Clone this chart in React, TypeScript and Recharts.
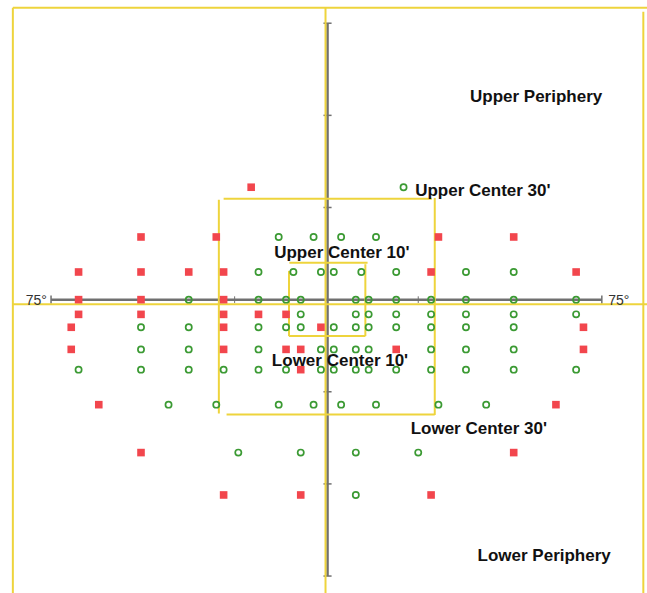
import React from "react";
import {
  ScatterChart,
  Scatter,
  XAxis,
  YAxis,
  ReferenceLine,
  ReferenceDot,
} from "recharts";

// visual field test locations, degrees from fixation (x: horizontal, y: vertical)
const seenPoints = [
  { x: 21, y: 30.5 },
  { x: -13, y: 17 }, { x: -3.5, y: 17 }, { x: 4, y: 17 }, { x: 13.5, y: 17 },
  { x: -18.5, y: 7.5 }, { x: -9, y: 7.5 }, { x: -1.5, y: 7.5 }, { x: 2, y: 7.5 },
  { x: 9.5, y: 7.5 }, { x: 19, y: 7.5 }, { x: 38, y: 7.5 }, { x: 51, y: 7.5 },
  { x: -37.5, y: 0 }, { x: -18.5, y: 0 }, { x: -11, y: 0 }, { x: -7, y: 0 },
  { x: 8, y: 0 }, { x: 11.5, y: 0 }, { x: 19, y: 0 }, { x: 28.5, y: 0 },
  { x: 38, y: 0 }, { x: 51, y: 0 }, { x: 68, y: 0 },
  { x: -7, y: -4 }, { x: 8, y: -4 }, { x: 11.5, y: -4 }, { x: 19, y: -4 },
  { x: 28.5, y: -4 }, { x: 38, y: -4 }, { x: 51, y: -4 }, { x: 68, y: -4 },
  { x: -50.5, y: -7.5 }, { x: -37.5, y: -7.5 }, { x: -18.5, y: -7.5 }, { x: -11, y: -7.5 },
  { x: -7, y: -7.5 }, { x: 2, y: -7.5 }, { x: 8, y: -7.5 }, { x: 11.5, y: -7.5 },
  { x: 19, y: -7.5 }, { x: 28.5, y: -7.5 }, { x: 38, y: -7.5 }, { x: 51, y: -7.5 },
  { x: -50.5, y: -13.5 }, { x: -37.5, y: -13.5 }, { x: -18.5, y: -13.5 }, { x: -1.5, y: -13.5 },
  { x: 2, y: -13.5 }, { x: 8, y: -13.5 }, { x: 11.5, y: -13.5 }, { x: 28.5, y: -13.5 },
  { x: 38, y: -13.5 }, { x: 51, y: -13.5 },
  { x: -67.5, y: -19 }, { x: -50.5, y: -19 }, { x: -37.5, y: -19 }, { x: -28, y: -19 },
  { x: -18.5, y: -19 }, { x: -11, y: -19 }, { x: -1.5, y: -19 }, { x: 2, y: -19 },
  { x: 8, y: -19 }, { x: 11.5, y: -19 }, { x: 19, y: -19 }, { x: 28.5, y: -19 },
  { x: 38, y: -19 }, { x: 51, y: -19 }, { x: 68, y: -19 },
  { x: -43, y: -28.5 }, { x: -30, y: -28.5 }, { x: -13, y: -28.5 }, { x: -3.5, y: -28.5 },
  { x: 4, y: -28.5 }, { x: 13.5, y: -28.5 }, { x: 30.5, y: -28.5 }, { x: 43.5, y: -28.5 },
  { x: -24, y: -41.5 }, { x: -7, y: -41.5 }, { x: 8, y: -41.5 }, { x: 25, y: -41.5 },
  { x: 8, y: -53 },
];

const missedPoints = [
  { x: -20.5, y: 30.5 },
  { x: -50.5, y: 17 }, { x: -30, y: 17 }, { x: 30.5, y: 17 }, { x: 51, y: 17 },
  { x: -67.5, y: 7.5 }, { x: -50.5, y: 7.5 }, { x: -37.5, y: 7.5 }, { x: -28, y: 7.5 },
  { x: 28.5, y: 7.5 }, { x: 68, y: 7.5 },
  { x: -67.5, y: 0 }, { x: -50.5, y: 0 }, { x: -28, y: 0 },
  { x: -67.5, y: -4 }, { x: -50.5, y: -4 }, { x: -28, y: -4 }, { x: -18.5, y: -4 }, { x: -11, y: -4 },
  { x: -69.5, y: -7.5 }, { x: -28, y: -7.5 }, { x: -1.5, y: -7.5 }, { x: 70, y: -7.5 },
  { x: -69.5, y: -13.5 }, { x: -28, y: -13.5 }, { x: -11, y: -13.5 }, { x: -7, y: -13.5 },
  { x: 19, y: -13.5 }, { x: 70, y: -13.5 },
  { x: -7, y: -19 },
  { x: -62, y: -28.5 }, { x: 62.5, y: -28.5 },
  { x: -50.5, y: -41.5 }, { x: 51, y: -41.5 },
  { x: -28, y: -53 }, { x: -7, y: -53 }, { x: 28.5, y: -53 },
];

// region boundaries, each edge as [x1, y1, x2, y2] in degrees
const regionEdges = [
  // outer frame and quadrant split
  [-85.4, 79.2, 87.3, 79.2],
  [-85.4, 79.2, -85.4, -79.6],
  [86.3, 78.1, 86.3, -79.6],
  [-85.6, -1.25, 87.3, -1.25],
  [-0.25, 79.2, -0.25, -79.6],
  // central 30
  [-28.0, 27.4, 28.7, 27.4],
  [-29.3, 27.1, -29.3, -30.9],
  [29.5, 27.6, 29.5, -31.3],
  [-27.2, -31.2, 29.5, -31.2],
  // central 10
  [-10.1, 10.0, 11.2, 10.0],
  [-10.2, 7.8, -10.2, -9.9],
  [10.6, 9.6, 10.6, -9.9],
  [-10.2, -9.9, 10.6, -9.9],
];

const regionLabels = [
  { x: 57.1, y: 55.3, text: "Upper Periphery" },
  { x: 42.6, y: 29.8, text: "Upper Center 30'" },
  { x: 4.2, y: 13.0, text: "Upper Center 10'" },
  { x: 3.7, y: -16.4, text: "Lower Center 10'" },
  { x: 41.5, y: -34.7, text: "Lower Center 30'" },
  { x: 59.3, y: -69.4, text: "Lower Periphery" },
];

const axisLimit = 75;
const axisTicks = [-75, -50, -25, 25, 50, 75];
const hTicks = [-25, 25];

const GREEN = "#3b9a33";
const RED = "#f2464d";
const YELLOW = "#eed43c";
const AXIS = "#707070";
const FONT = "'Liberation Sans', Arial, Helvetica, sans-serif";

const Ring = (p: any) => (
  <circle cx={p.cx} cy={p.cy} r={3.1} fill="none" stroke={GREEN} strokeWidth={1.7} />
);

const Block = (p: any) => (
  <rect x={p.cx - 3.8} y={p.cy - 3.8} width={7.6} height={7.6} fill={RED} />
);

export default function App() {
  return (
    <div
      style={{
        position: "absolute",
        left: 0,
        top: 0,
        width: 647,
        height: 593,
        background: "#fff",
        fontFamily: FONT,
      }}
    >
      <ScatterChart width={647} height={593} margin={{ top: 0, right: 0, bottom: 0, left: 0 }}>
        <XAxis type="number" dataKey="x" domain={[-88.9, 87.3]} allowDataOverflow hide />
        <YAxis type="number" dataKey="y" domain={[-79.6, 81.3]} allowDataOverflow hide />

        {/* gray degree axes */}
        <ReferenceLine
          segment={[{ x: -axisLimit, y: 0 }, { x: axisLimit, y: 0 }]}
          stroke={AXIS}
          strokeWidth={2.5}
        />
        <ReferenceLine
          segment={[{ x: 0.3, y: -axisLimit }, { x: 0.3, y: axisLimit }]}
          stroke={AXIS}
          strokeWidth={2.5}
        />
        {[-axisLimit, axisLimit].map((v) => (
          <ReferenceLine
            key={`he${v}`}
            segment={[{ x: v, y: -1.1 }, { x: v, y: 1.1 }]}
            stroke={AXIS}
            strokeWidth={1.5}
          />
        ))}
        {hTicks.map((v) => (
          <ReferenceLine
            key={`ht${v}`}
            segment={[{ x: v, y: -0.9 }, { x: v, y: 0.9 }]}
            stroke={AXIS}
            strokeWidth={1}
          />
        ))}
        {axisTicks.map((v) => (
          <ReferenceLine
            key={`vt${v}`}
            segment={[{ x: -0.8, y: v }, { x: 1.4, y: v }]}
            stroke={AXIS}
            strokeWidth={1.5}
          />
        ))}

        <Scatter data={seenPoints} shape={Ring} isAnimationActive={false} />
        <Scatter data={missedPoints} shape={Block} isAnimationActive={false} />

        {/* region boundaries */}
        {regionEdges.map(([x1, y1, x2, y2], i) => (
          <ReferenceLine
            key={`edge${i}`}
            segment={[{ x: x1, y: y1 }, { x: x2, y: y2 }]}
            stroke={YELLOW}
            strokeWidth={2}
          />
        ))}

        <ReferenceDot
          x={-79}
          y={0}
          r={0}
          label={{ value: "75°", position: "center", fontSize: 14, fill: "#333", fontFamily: FONT }}
        />
        <ReferenceDot
          x={79.6}
          y={0}
          r={0}
          label={{ value: "75°", position: "center", fontSize: 14, fill: "#333", fontFamily: FONT }}
        />
        {regionLabels.map((l) => (
          <ReferenceDot
            key={l.text}
            x={l.x}
            y={l.y}
            r={0}
            label={{
              value: l.text,
              position: "center",
              fontSize: 17,
              fontWeight: 700,
              fill: "#111",
              fontFamily: FONT,
            }}
          />
        ))}
      </ScatterChart>
    </div>
  );
}
